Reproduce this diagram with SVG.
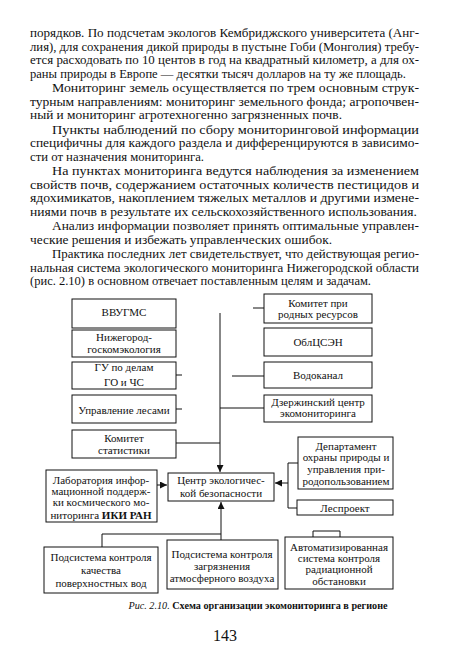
<svg xmlns="http://www.w3.org/2000/svg" width="450" height="663" viewBox="0 0 450 663">
<defs>
<style>
.b{font-family:"Liberation Serif",serif;font-size:13px;fill:#111}
.t{font-family:"Liberation Serif",serif;font-size:11px;fill:#111;text-anchor:middle}
.box{fill:none;stroke:#111;stroke-width:1}
.ln{fill:none;stroke:#111;stroke-width:1}
.cap{font-family:"Liberation Serif",serif;font-size:10.2px;fill:#111}
</style>
<marker id="ah" viewBox="0 0 8 8" refX="8" refY="4" markerWidth="7" markerHeight="7" orient="auto" markerUnits="userSpaceOnUse">
<path d="M0,0 L8,4 L0,8 z" fill="#111"/>
</marker>
</defs>
<rect width="450" height="663" fill="#fff"/>
<g id="body">
<text class="b" x="30" y="37" textLength="389" lengthAdjust="spacingAndGlyphs">порядков. По подсчетам экологов Кембриджского университета (Анг-</text>
<text class="b" x="30" y="50.5" textLength="389" lengthAdjust="spacingAndGlyphs">лия), для сохранения дикой природы в пустыне Гоби (Монголия) требу-</text>
<text class="b" x="30" y="64" textLength="389" lengthAdjust="spacingAndGlyphs">ется расходовать по 10 центов в год на квадратный километр, а для ох-</text>
<text class="b" x="30" y="77.5" textLength="376" lengthAdjust="spacingAndGlyphs">раны природы в Европе — десятки тысяч долларов на ту же площадь.</text>
<text class="b" x="52" y="92" textLength="367" lengthAdjust="spacingAndGlyphs">Мониторинг земель осуществляется по трем основным струк-</text>
<text class="b" x="30" y="105.5" textLength="389" lengthAdjust="spacingAndGlyphs">турным направлениям: мониторинг земельного фонда; агропочвен-</text>
<text class="b" x="30" y="119" textLength="312" lengthAdjust="spacingAndGlyphs">ный и мониторинг агротехногенно загрязненных почв.</text>
<text class="b" x="52" y="133.5" textLength="367" lengthAdjust="spacingAndGlyphs">Пункты наблюдений по сбору мониторинговой информации</text>
<text class="b" x="30" y="147" textLength="389" lengthAdjust="spacingAndGlyphs">специфичны для каждого раздела и дифференцируются в зависимо-</text>
<text class="b" x="30" y="160.5" textLength="174" lengthAdjust="spacingAndGlyphs">сти от назначения мониторинга.</text>
<text class="b" x="52" y="175" textLength="367" lengthAdjust="spacingAndGlyphs">На пунктах мониторинга ведутся наблюдения за изменением</text>
<text class="b" x="30" y="188.5" textLength="389" lengthAdjust="spacingAndGlyphs">свойств почв, содержанием остаточных количеств пестицидов и</text>
<text class="b" x="30" y="202" textLength="389" lengthAdjust="spacingAndGlyphs">ядохимикатов, накоплением тяжелых металлов и другими измене-</text>
<text class="b" x="30" y="215.5" textLength="387" lengthAdjust="spacingAndGlyphs">ниями почв в результате их сельскохозяйственного использования.</text>
<text class="b" x="52" y="230" textLength="367" lengthAdjust="spacingAndGlyphs">Анализ информации позволяет принять оптимальные управлен-</text>
<text class="b" x="30" y="243.5" textLength="302" lengthAdjust="spacingAndGlyphs">ческие решения и избежать управленческих ошибок.</text>
<text class="b" x="52" y="258" textLength="367" lengthAdjust="spacingAndGlyphs">Практика последних лет свидетельствует, что действующая регио-</text>
<text class="b" x="30" y="271.5" textLength="389" lengthAdjust="spacingAndGlyphs">нальная система экологического мониторинга Нижегородской области</text>
<text class="b" x="30" y="285" textLength="341" lengthAdjust="spacingAndGlyphs">(рис. 2.10) в основном отвечает поставленным целям и задачам.</text>
</g>
<g id="connectors">
<path class="ln" d="M220,313 V472" marker-end="url(#ah)"/>
<path class="ln" d="M176,443 H220"/>
<path class="ln" d="M176,375 H182"/>
<path class="ln" d="M176,409 H182"/>
<path class="ln" d="M253,308 H264"/>
<path class="ln" d="M232,376 H264"/>
<path class="ln" d="M220,408 H264"/>
<path class="ln" d="M157,485 H167" marker-end="url(#ah)"/>
<path class="ln" d="M298,463 H288 V483 H275" marker-end="url(#ah)"/>
<path class="ln" d="M288,483 V508 H297"/>
<path class="ln" d="M313,537 V531 H340 V537"/>
<path class="ln" d="M221,540 V502" marker-end="url(#ah)"/>
<path class="ln" d="M102,547 V534 H221"/>
</g>
<g id="n-vvugms"><rect class="box" x="72" y="299" width="104" height="29"/><text class="t" x="124" y="316">ВВУГМС</text></g>
<g id="n-nizhgor"><rect class="box" x="72" y="330" width="104" height="27"/><text class="t" x="124" y="341">Нижегород-</text><text class="t" x="124" y="353">госкомэкология</text></g>
<g id="n-gu"><rect class="box" x="72" y="362" width="104" height="27"/><text class="t" x="124" y="371">ГУ по делам</text><text class="t" x="124" y="386">ГО и ЧС</text></g>
<g id="n-les"><rect class="box" x="72" y="395" width="104" height="28"/><text class="t" x="124" y="414">Управление лесами</text></g>
<g id="n-stat"><rect class="box" x="72" y="430" width="104" height="28"/><text class="t" x="124" y="442">Комитет</text><text class="t" x="124" y="454">статистики</text></g>
<g id="n-kpr"><rect class="box" x="264" y="294" width="108" height="29"/><text class="t" x="318" y="307">Комитет при</text><text class="t" x="318" y="318">родных ресурсов</text></g>
<g id="n-csen"><rect class="box" x="264" y="328" width="108" height="28"/><text class="t" x="318" y="346">ОблЦСЭН</text></g>
<g id="n-vod"><rect class="box" x="264" y="362" width="108" height="26"/><text class="t" x="318" y="379">Водоканал</text></g>
<g id="n-dz"><rect class="box" x="264" y="395" width="108" height="27"/><text class="t" x="318" y="406">Дзержинский центр</text><text class="t" x="318" y="417">экомониторинга</text></g>
<g id="n-dep"><rect class="box" x="298" y="437" width="95" height="52"/><text class="t" x="346" y="450">Департамент</text><text class="t" x="346" y="461">охраны природы и</text><text class="t" x="346" y="473">управления при-</text><text class="t" x="346" y="485">родопользованием</text></g>
<g id="n-center"><rect class="box" x="168" y="473" width="106" height="28"/><text class="t" x="221" y="484">Центр экологичес-</text><text class="t" x="221" y="497">кой безопасности</text></g>
<g id="n-lab"><rect class="box" x="46" y="470" width="111" height="52"/><text class="t" x="101" y="484">Лаборатория инфор-</text><text class="t" x="101" y="495">мационной поддерж-</text><text class="t" x="101" y="506">ки космического мо-</text><text class="t" x="101" y="519">ниторинга <tspan font-weight="bold">ИКИ РАН</tspan></text></g>
<g id="n-lesproekt"><rect class="box" x="297" y="500" width="96" height="15"/><text class="t" x="345" y="512">Леспроект</text></g>
<g id="n-vody"><rect class="box" x="44" y="547" width="114" height="46"/><text class="t" x="101" y="561">Подсистема контроля</text><text class="t" x="101" y="574">качества</text><text class="t" x="101" y="587">поверхностных вод</text></g>
<g id="n-air"><rect class="box" x="167" y="540" width="111" height="49"/><text class="t" x="222" y="558">Подсистема контроля</text><text class="t" x="222" y="570">загрязнения</text><text class="t" x="222" y="582">атмосферного воздуха</text></g>
<g id="n-rad"><rect class="box" x="285" y="537" width="108" height="52"/><text class="t" x="339" y="551">Автоматизированная</text><text class="t" x="339" y="562">система контроля</text><text class="t" x="339" y="573">радиационной</text><text class="t" x="339" y="585">обстановки</text></g>
<g id="caption">
<text class="cap" x="258" y="609" text-anchor="middle"><tspan font-style="italic">Рис. 2.10.</tspan><tspan font-weight="bold"> Схема организации экомониторинга в регионе</tspan></text>
<text x="225" y="641" font-family="Liberation Serif, serif" font-size="16" text-anchor="middle" fill="#111">143</text>
</g>
</svg>
